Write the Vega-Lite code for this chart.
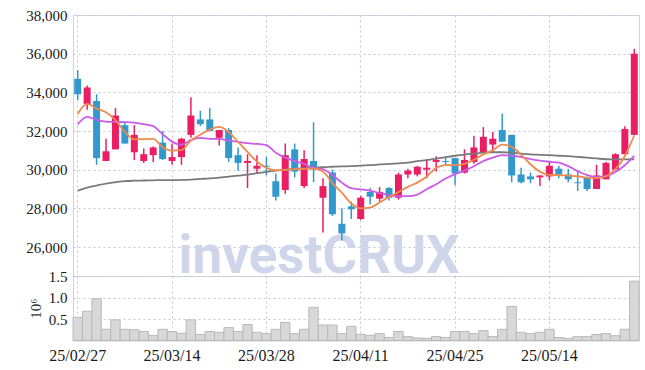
{
  "$schema": "https://vega.github.io/schema/vega-lite/v6.json",
  "padding": {"left": 25, "top": 7, "right": 6, "bottom": 4},
  "background": "white",
  "spacing": 0,
  "bounds": "flush",
  "config": {
    "view": {"stroke": "#d4d4d4"},
    "axis": {
      "labelFont": "Liberation Sans Narrow",
      "labelFontSize": 15,
      "labelColor": "#1a1a1a",
      "gridColor": "#c3c6da",
      "gridDash": [2, 3],
      "gridWidth": 1,
      "ticks": false,
      "domain": false
    }
  },
  "datasets": {
    "k": [
      {"d":"25/02/27","o":34700,"h":35150,"l":33600,"c":33900,"v":0.54,"m5":32880,"m10":32350,"m60":28920},
      {"d":"25/02/28","o":33400,"h":34350,"l":33100,"c":34250,"v":0.68,"m5":33400,"m10":32730,"m60":29070},
      {"d":"25/03/04","o":33550,"h":33900,"l":30250,"c":30600,"v":0.97,"m5":33160,"m10":32580,"m60":29180},
      {"d":"25/03/05","o":30450,"h":31600,"l":30450,"c":30950,"v":0.26,"m5":32970,"m10":32490,"m60":29280},
      {"d":"25/03/06","o":31050,"h":33200,"l":31050,"c":32800,"v":0.48,"m5":32560,"m10":32470,"m60":29350},
      {"d":"25/03/07","o":32300,"h":32450,"l":31350,"c":31350,"v":0.26,"m5":31950,"m10":32460,"m60":29410},
      {"d":"25/03/10","o":30900,"h":32300,"l":30500,"c":31800,"v":0.25,"m5":31570,"m10":32430,"m60":29430},
      {"d":"25/03/11","o":30450,"h":31100,"l":30350,"c":30800,"v":0.21,"m5":31580,"m10":32350,"m60":29440},
      {"d":"25/03/12","o":30750,"h":31200,"l":30400,"c":31150,"v":0.12,"m5":31590,"m10":32250,"m60":29450},
      {"d":"25/03/13","o":31400,"h":32000,"l":30500,"c":30550,"v":0.26,"m5":31160,"m10":31840,"m60":29460},
      {"d":"25/03/14","o":30450,"h":31350,"l":30250,"c":30650,"v":0.21,"m5":30990,"m10":31450,"m60":29460},
      {"d":"25/03/17","o":30650,"h":31650,"l":30250,"c":31600,"v":0.17,"m5":31010,"m10":31290,"m60":29470},
      {"d":"25/03/18","o":31800,"h":33750,"l":31650,"c":32800,"v":0.48,"m5":31510,"m10":31530,"m60":29490},
      {"d":"25/03/19","o":32600,"h":33050,"l":32250,"c":32350,"v":0.14,"m5":31810,"m10":31640,"m60":29520},
      {"d":"25/03/20","o":32600,"h":33200,"l":32000,"c":32000,"v":0.21,"m5":32070,"m10":31590,"m60":29550},
      {"d":"25/03/21","o":31650,"h":32050,"l":31250,"c":32050,"v":0.19,"m5":32210,"m10":31590,"m60":29590},
      {"d":"25/03/24","o":32050,"h":32150,"l":30400,"c":30600,"v":0.30,"m5":31950,"m10":31510,"m60":29640},
      {"d":"25/03/25","o":30750,"h":31150,"l":29950,"c":30350,"v":0.21,"m5":31440,"m10":31440,"m60":29690},
      {"d":"25/03/26","o":30350,"h":30800,"l":29050,"c":30450,"v":0.37,"m5":30920,"m10":31370,"m60":29740},
      {"d":"25/03/27","o":30050,"h":30750,"l":29800,"c":30200,"v":0.19,"m5":30420,"m10":31330,"m60":29820},
      {"d":"25/03/28","o":30200,"h":30650,"l":29700,"c":30150,"v":0.16,"m5":30090,"m10":31270,"m60":29890},
      {"d":"25/03/31","o":29400,"h":29800,"l":28400,"c":28600,"v":0.26,"m5":29970,"m10":30880,"m60":29950},
      {"d":"25/04/01","o":28950,"h":31350,"l":28750,"c":30750,"v":0.42,"m5":29990,"m10":30620,"m60":30000},
      {"d":"25/04/02","o":31050,"h":31350,"l":29600,"c":29900,"v":0.16,"m5":30030,"m10":30440,"m60":30040},
      {"d":"25/04/03","o":29150,"h":31000,"l":29050,"c":30550,"v":0.26,"m5":30040,"m10":30300,"m60":30080},
      {"d":"25/04/04","o":30450,"h":32450,"l":29350,"c":30000,"v":0.77,"m5":30060,"m10":30090,"m60":30100},
      {"d":"25/04/07","o":28550,"h":29550,"l":26750,"c":29150,"v":0.36,"m5":29900,"m10":30030,"m60":30130},
      {"d":"25/04/08","o":29850,"h":30000,"l":27600,"c":27700,"v":0.36,"m5":29300,"m10":29720,"m60":30150},
      {"d":"25/04/09","o":27200,"h":28000,"l":26350,"c":26700,"v":0.16,"m5":28810,"m10":29330,"m60":30170},
      {"d":"25/04/10","o":28100,"h":28350,"l":27450,"c":27950,"v":0.33,"m5":28250,"m10":29040,"m60":30180},
      {"d":"25/04/11","o":27450,"h":28650,"l":27400,"c":28550,"v":0.14,"m5":28000,"m10":28980,"m60":30210},
      {"d":"25/04/14","o":28850,"h":29050,"l":28200,"c":28600,"v":0.12,"m5":28040,"m10":28920,"m60":30230},
      {"d":"25/04/15","o":28500,"h":29100,"l":28350,"c":28850,"v":0.16,"m5":28300,"m10":28790,"m60":30270},
      {"d":"25/04/16","o":29050,"h":29100,"l":28400,"c":28550,"v":0.07,"m5":28580,"m10":28680,"m60":30300},
      {"d":"25/04/17","o":28550,"h":29850,"l":28450,"c":29750,"v":0.21,"m5":28840,"m10":28630,"m60":30330},
      {"d":"25/04/18","o":29750,"h":30050,"l":29550,"c":29950,"v":0.09,"m5":29110,"m10":28630,"m60":30360},
      {"d":"25/04/21","o":29750,"h":30200,"l":29650,"c":30150,"v":0.06,"m5":29330,"m10":28710,"m60":30440},
      {"d":"25/04/22","o":30000,"h":30550,"l":29550,"c":30100,"v":0.05,"m5":29650,"m10":28990,"m60":30490},
      {"d":"25/04/23","o":30400,"h":30700,"l":29900,"c":30500,"v":0.09,"m5":30090,"m10":29250,"m60":30570},
      {"d":"25/04/24","o":30450,"h":30650,"l":30250,"c":30400,"v":0.07,"m5":30230,"m10":29540,"m60":30650},
      {"d":"25/04/25","o":30600,"h":30600,"l":29200,"c":29800,"v":0.21,"m5":30230,"m10":29770,"m60":30720},
      {"d":"25/04/28","o":29850,"h":31050,"l":29800,"c":30500,"v":0.21,"m5":30300,"m10":29950,"m60":30780},
      {"d":"25/04/29","o":30400,"h":31750,"l":30300,"c":31150,"v":0.16,"m5":30510,"m10":30180,"m60":30830},
      {"d":"25/04/30","o":30900,"h":32200,"l":30900,"c":31700,"v":0.23,"m5":30790,"m10":30440,"m60":30880},
      {"d":"25/05/02","o":31300,"h":31950,"l":30900,"c":31600,"v":0.09,"m5":31010,"m10":30620,"m60":30900},
      {"d":"25/05/07","o":32050,"h":32900,"l":31450,"c":31450,"v":0.26,"m5":31300,"m10":30750,"m60":30900},
      {"d":"25/05/08","o":31800,"h":31800,"l":29350,"c":29700,"v":0.79,"m5":31180,"m10":30720,"m60":30880},
      {"d":"25/05/09","o":29750,"h":30100,"l":29300,"c":29350,"v":0.19,"m5":30780,"m10":30660,"m60":30830},
      {"d":"25/05/12","o":29650,"h":29850,"l":29300,"c":29500,"v":0.16,"m5":30280,"m10":30550,"m60":30790},
      {"d":"25/05/13","o":29600,"h":29700,"l":29150,"c":29700,"v":0.19,"m5":29890,"m10":30470,"m60":30770},
      {"d":"25/05/14","o":29650,"h":30450,"l":29450,"c":30200,"v":0.26,"m5":29730,"m10":30410,"m60":30750},
      {"d":"25/05/15","o":30050,"h":30200,"l":29550,"c":29750,"v":0.07,"m5":29720,"m10":30360,"m60":30720},
      {"d":"25/05/16","o":29750,"h":30050,"l":29350,"c":29500,"v":0.05,"m5":29690,"m10":30180,"m60":30700},
      {"d":"25/05/19","o":29350,"h":29950,"l":28900,"c":29300,"v":0.09,"m5":29660,"m10":29920,"m60":30660},
      {"d":"25/05/20","o":29600,"h":29650,"l":28900,"c":29000,"v":0.09,"m5":29580,"m10":29720,"m60":30620},
      {"d":"25/05/21","o":29000,"h":30250,"l":29000,"c":29700,"v":0.14,"m5":29560,"m10":29620,"m60":30580},
      {"d":"25/05/22","o":29500,"h":30400,"l":29500,"c":30350,"v":0.16,"m5":29660,"m10":29660,"m60":30540},
      {"d":"25/05/23","o":30000,"h":30850,"l":30000,"c":30800,"v":0.11,"m5":30030,"m10":29880,"m60":30530},
      {"d":"25/05/26","o":30800,"h":32250,"l":30800,"c":32100,"v":0.26,"m5":30710,"m10":30230,"m60":30530},
      {"d":"25/05/27","o":31800,"h":36250,"l":31800,"c":36000,"v":1.38,"m5":31780,"m10":30710,"m60":30530}
    ],
    "wm": [{"t":"investCRUX","d":"25/03/17","p":24650}]
  },
  "vconcat": [
    {
      "width": 566,
      "height": 261,
      "encoding": {
        "x": {
          "field": "d", "type": "ordinal", "sort": "ascending",
          "scale": {"paddingInner": 0, "paddingOuter": 0},
          "axis": {
            "values": ["25/02/27","25/03/14","25/03/28","25/04/11","25/04/25","25/05/14"],
            "labels": false, "grid": true, "title": null, "bandPosition": 0.5,
            "minExtent": 0, "maxExtent": 0, "labelPadding": 0
          }
        }
      },
      "layer": [
        {
          "data": {"name": "wm"},
          "mark": {"type": "text", "font": "Roboto", "fontWeight": "bold", "fontSize": 53, "align": "left", "baseline": "alphabetic", "color": "#d0d6e9", "dx": -3},
          "encoding": {
            "y": {"field": "p", "type": "quantitative", "scale": {"domain": [24500, 38000], "nice": false, "zero": false},
              "axis": {"values": [26000,28000,30000,32000,34000,36000,38000], "labelExpr": "format(datum.value, ',')", "title": null, "grid": true, "labelPadding": 6}},
            "text": {"field": "t"}
          }
        },
        {
          "data": {"name": "k"},
          "layer": [
            {
              "mark": {"type": "rule", "strokeWidth": 1.5},
              "encoding": {
                "y": {"field": "l", "type": "quantitative"},
                "y2": {"field": "h"},
                "color": {"condition": {"test": "datum.c >= datum.o", "value": "#e91e63"}, "value": "#3399cc"}
              }
            },
            {
              "mark": {"type": "bar", "size": 7},
              "encoding": {
                "y": {"field": "o", "type": "quantitative"},
                "y2": {"field": "c"},
                "color": {"condition": {"test": "datum.c >= datum.o", "value": "#e91e63"}, "value": "#3399cc"}
              }
            },
            {
              "mark": {"type": "line", "interpolate": "monotone", "strokeWidth": 1.8, "color": "#7a7a7a"},
              "encoding": {"y": {"field": "m60", "type": "quantitative"}}
            },
            {
              "mark": {"type": "line", "interpolate": "monotone", "strokeWidth": 1.8, "color": "#cc5ae8"},
              "encoding": {"y": {"field": "m10", "type": "quantitative"}}
            },
            {
              "mark": {"type": "line", "interpolate": "monotone", "strokeWidth": 1.8, "color": "#f08a4f"},
              "encoding": {"y": {"field": "m5", "type": "quantitative"}}
            }
          ]
        }
      ]
    },
    {
      "width": 566,
      "height": 64.5,
      "data": {"name": "k"},
      "mark": {"type": "bar", "fill": "#d8d8d8", "stroke": "#b9b9b9", "strokeWidth": 1},
      "encoding": {
        "x": {
          "field": "d", "type": "ordinal", "sort": "ascending",
          "scale": {"paddingInner": 0, "paddingOuter": 0},
          "axis": {
            "values": ["25/02/27","25/03/14","25/03/28","25/04/11","25/04/25","25/05/14"],
            "labelAngle": 0, "labelPadding": 7, "labelFontSize": 16, "grid": true, "title": null, "bandPosition": 0.5
          }
        },
        "y": {
          "field": "v", "type": "quantitative",
          "scale": {"domain": [0, 1.5], "nice": false},
          "axis": {"values": [0.5, 1.0, 1.5], "labelExpr": "format(datum.value, '.1f')", "grid": true, "labelPadding": 6,
            "title": "10⁶", "titleFont": "Liberation Sans Narrow", "titleFontSize": 15, "titleFontWeight": "normal", "titleColor": "#333333", "titlePadding": 5}
        }
      }
    }
  ]
}
